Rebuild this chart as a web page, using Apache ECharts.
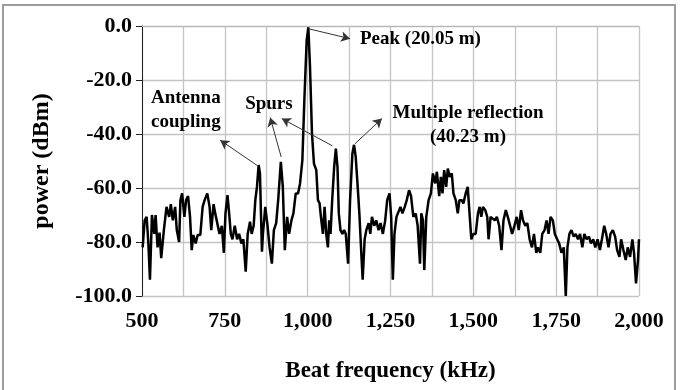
<!DOCTYPE html>
<html>
<head>
<meta charset="utf-8">
<script src="https://cdn.jsdelivr.net/npm/echarts@6/dist/echarts.min.js"></script>
<style>
  html, body { margin: 0; padding: 0; background: #fff; }
  #chart { width: 685px; height: 390px; }
</style>
</head>
<body>
<div id="chart"></div>
<script>
// beat frequency (kHz) / power (dBm)
var freqKHz = [502,508,514,519,524,530,537,541,547,553,558,566,574,582,587,593,600,605,612,616,621,628,633,639,645,650,655,662,668,676,683,689,697,704,709,716,721,727,734,741,747,752,758,763,768,773,780,787,793,800,806,813,819,826,831,837,842,847,852,856,862,865,872,879,885,892,898,905,911,919,925,931,938,944,951,957,964,971,977,984,990,997,1002,1007,1013,1019,1026,1031,1036,1040,1046,1051,1056,1061,1065,1069,1074,1080,1085,1090,1094,1099,1105,1110,1115,1122,1128,1135,1140,1145,1151,1156,1161,1166,1172,1177,1184,1189,1194,1201,1207,1214,1220,1227,1234,1240,1247,1252,1257,1262,1268,1274,1280,1286,1293,1299,1306,1312,1319,1326,1332,1339,1343,1348,1352,1358,1365,1372,1378,1385,1390,1397,1402,1407,1412,1418,1423,1429,1435,1440,1447,1453,1458,1465,1470,1477,1483,1490,1494,1500,1507,1514,1519,1524,1529,1536,1542,1546,1552,1558,1565,1571,1578,1585,1591,1598,1604,1611,1617,1624,1631,1637,1644,1650,1657,1663,1670,1677,1683,1690,1695,1702,1708,1715,1721,1727,1733,1740,1746,1753,1759,1766,1773,1779,1784,1790,1796,1803,1809,1816,1822,1829,1835,1842,1849,1855,1862,1868,1875,1882,1888,1895,1901,1908,1914,1921,1928,1934,1941,1946,1953,1960,1966,1973,1980,1985,1991,1997,2000];
var powerDbm = [-82,-72,-70.7,-80,-94,-70,-77,-70,-82,-76.5,-86,-75.6,-67,-70.7,-66,-72,-67,-75.6,-80,-64.5,-62,-70.7,-64.5,-63,-70.7,-83,-77.4,-80.5,-77.4,-77.4,-67,-64.5,-62,-67,-75.6,-66,-69.4,-70,-77,-74,-84,-69.4,-62.6,-69.4,-77,-79,-74,-79,-77,-80.5,-79,-91,-77,-72.5,-77,-74,-64.5,-59.6,-51.5,-54.6,-83.6,-77,-67,-74,-82,-88,-75.6,-73,-64.5,-50.3,-59.6,-83,-70.7,-77,-72,-69.4,-62,-62,-58.3,-49.7,-27.5,-5.3,-0.5,-15,-39.8,-51,-53.4,-64.5,-65.7,-70.7,-77,-67,-77,-82,-72,-77,-64.5,-52.2,-45.4,-52.2,-69.4,-75.6,-77,-75.6,-77,-88,-64.5,-47.2,-44,-48.5,-59.6,-69.4,-82,-94,-79,-75.6,-73,-77,-70.7,-74,-72,-75.6,-73,-77,-72,-64.5,-62,-70.7,-94,-77,-70.7,-70.7,-67,-69.4,-67,-64.5,-60.8,-63,-70.7,-69.4,-74,-88,-69.4,-72,-90.4,-70.7,-64.5,-62,-54.6,-58.3,-54,-63,-55.9,-62,-53.4,-59.6,-52.8,-55.9,-54.6,-62,-64.5,-69.4,-64.5,-64.5,-65.7,-62,-59.6,-72,-79,-77,-77,-69.4,-67,-70.7,-67,-68.2,-70.7,-79,-70.7,-70.7,-72,-70.7,-74,-83,-72,-68.2,-70.7,-74,-77,-74,-70.7,-75.6,-68.2,-72,-74,-73,-79,-82,-77,-84,-82,-84,-77,-75.6,-72,-77,-70.7,-72,-77,-79,-80.5,-84,-82,-100,-82,-77,-75.6,-78,-77,-79,-77,-82,-77,-79,-78,-80.5,-79,-82,-79,-83,-79,-74,-77,-82,-77,-75.6,-78,-83,-85.5,-79,-83,-86.7,-82,-85.5,-79,-84,-95.3,-86.7,-79];

// axis ranges
var xMin = 500, xMax = 2000, xGridStep = 125, xLabelStep = 250;
var yMin = -100, yMax = 0, yStep = 20;

// annotation arrows: [from, to] in data coords (kHz, dBm)
var arrowLines = [
  [[1002, -1], [1128, -4.7]],
  [[847, -51.6], [736, -42.3]],
  [[920, -48.5], [887, -33.9]],
  [[1075, -44.4], [922, -34.3]],
  [[1143, -43.6], [1224, -34.3]]
];
// annotation texts: [x, y, text, anchor]
var noteLabels = [
  [1158, -4.7, 'Peak (20.05 m)', 'left'],
  [527, -31.2, 'Antenna\ncoupling', 'left'],
  [883, -29, 'Spurs', 'center'],
  [1484, -36.7, 'Multiple reflection\n(40.23 m)', 'center']
];

var FONT = '"Liberation Serif", "Times New Roman", serif';

function withComma(v) {
  return String(v).replace(/\B(?=(\d{3})+(?!\d))/g, ',');
}

var chart = echarts.init(document.getElementById('chart'));

chart.setOption({
  animation: false,
  graphic: [{
    type: 'rect',
    shape: { x: 3, y: 5, width: 672, height: 400 },
    style: { fill: 'none', stroke: '#9c9c9c', lineWidth: 2 },
    silent: true
  }],
  grid: { left: 142, right: 46, top: 26, bottom: 94 },
  xAxis: {
    type: 'value',
    min: xMin,
    max: xMax,
    interval: xGridStep,
    name: 'Beat frequency (kHz)',
    nameLocation: 'middle',
    nameGap: 64,
    nameTextStyle: { fontFamily: FONT, fontWeight: 'bold', fontSize: 23, color: '#000' },
    axisLine: { show: true, lineStyle: { color: '#b5b5b5', width: 1 } },
    axisTick: { show: false },
    axisLabel: {
      margin: 14,
      fontFamily: FONT, fontWeight: 'bold', fontSize: 22, color: '#000',
      formatter: function (v) { return v % xLabelStep === 0 ? withComma(v) : ''; }
    },
    splitLine: { show: true, lineStyle: { color: '#c4c4c4', width: 1.3 } }
  },
  yAxis: {
    type: 'value',
    min: yMin,
    max: yMax,
    interval: yStep,
    name: 'power (dBm)',
    nameLocation: 'middle',
    nameGap: 88,
    nameTextStyle: { fontFamily: FONT, fontWeight: 'bold', fontSize: 24, color: '#000' },
    axisLine: { show: true, lineStyle: { color: '#222', width: 1 } },
    axisTick: { show: true, length: 6, lineStyle: { color: '#222' } },
    axisLabel: {
      margin: 10,
      fontFamily: FONT, fontWeight: 'bold', fontSize: 22, color: '#000',
      formatter: function (v) { return v.toFixed(1); }
    },
    splitLine: { show: true, lineStyle: { color: '#c4c4c4', width: 1.3 } }
  },
  series: [{
    type: 'line',
    data: freqKHz.map(function (f, i) { return [f, powerDbm[i]]; }),
    showSymbol: false,
    symbol: 'none',
    lineStyle: { color: '#000', width: 2.5 },
    clip: false,
    markLine: {
      silent: true,
      symbol: ['none', 'arrow'],
      symbolSize: [8, 9],
      label: { show: false },
      lineStyle: { color: '#333', width: 1, type: 'solid' },
      data: arrowLines.map(function (a) {
        return [{ coord: a[0] }, { coord: a[1] }];
      })
    },
    markPoint: {
      silent: true,
      symbol: 'circle',
      symbolSize: 0,
      data: noteLabels.map(function (n) {
        return {
          coord: [n[0], n[1]],
          label: {
            show: true,
            position: n[3] === 'left' ? 'right' : 'inside',
            distance: 0,
            align: n[3],
            formatter: n[2],
            fontFamily: FONT, fontWeight: 'bold', fontSize: 19, lineHeight: 24, color: '#000'
          }
        };
      })
    }
  }]
});
</script>
</body>
</html>
